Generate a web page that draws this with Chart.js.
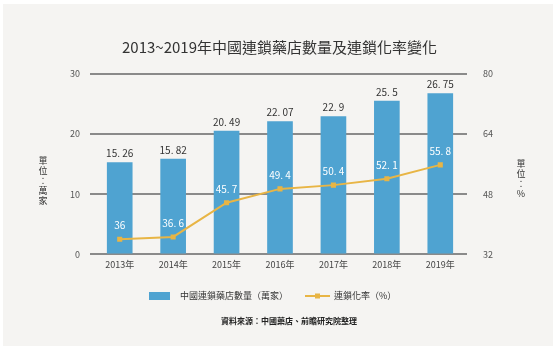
<!DOCTYPE html>
<html><head><meta charset="utf-8">
<script src="https://cdn.jsdelivr.net/npm/chart.js@4"></script>
<style>html,body{margin:0;padding:0;background:#fff;}#wrap{width:559px;height:352px;}</style>
</head><body><div id="wrap"><canvas id="c" width="559" height="352"></canvas></div>
<script>
const categories = ['2013年','2014年','2015年','2016年','2017年','2018年','2019年'];
const storeCounts = [15.26, 15.82, 20.49, 22.07, 22.9, 25.5, 26.75];
const chainRates = [36, 36.6, 45.7, 49.4, 50.4, 52.1, 55.8];
const leftTicks = [0, 10, 20, 30];
const rightTicks = [32, 48, 64, 80];
const titleText = '2013~2019年中國連鎖藥店數量及連鎖化率變化';
const leftAxisTitle = '單位：萬家';
const rightAxisTitle = '單位：%';
const sourceText = '資料來源：中國藥店、前瞻研究院整理';

const FONT = '"Noto Sans CJK TC", "Noto Sans", sans-serif';
const fmt = v => String(v).replace('.', '. ');

const decor = {
  id: 'decor',
  beforeDraw(chart) {
    const ctx = chart.ctx;
    ctx.save();
    ctx.fillStyle = '#f5f4f2';
    ctx.fillRect(3, 4, 550, 342);
    ctx.restore();
  },
  afterDatasetsDraw(chart) {
    const ctx = chart.ctx;
    const ds = chart.data.datasets;
    const bi = ds.findIndex(d => d.type === 'bar');
    const li = ds.findIndex(d => d.type === 'line');
    const bar = ds[bi], line = ds[li];
    ctx.save();
    ctx.textAlign = 'center';
    ctx.textBaseline = 'middle';
    // bar labels
    ctx.font = '10px ' + FONT;
    ctx.fillStyle = '#333';
    chart.getDatasetMeta(bi).data.forEach((el, i) => {
      ctx.fillText(fmt(bar.data[i]), el.x, el.y - 9);
    });
    // line labels
    ctx.fillStyle = '#ffffff';
    chart.getDatasetMeta(li).data.forEach((el, i) => {
      ctx.fillText(fmt(line.data[i]), el.x, el.y - 14);
    });
    // axis titles (upright stacked characters)
    ctx.fillStyle = '#333';
    ctx.font = '9px ' + FONT;
    const drawStack = (text, x, y0, step) => {
      [...text].forEach((ch, k) => ctx.fillText(ch, x, y0 + k * step));
    };
    drawStack(leftAxisTitle, 43, 161, 10);
    drawStack(rightAxisTitle, 521, 164, 10);
    // legend
    ctx.textAlign = 'left';
    ctx.font = '9px ' + FONT;
    ctx.fillStyle = bar.backgroundColor;
    ctx.fillRect(149, 292, 21, 8);
    ctx.fillStyle = '#333';
    ctx.fillText(bar.label, 180, 296);
    ctx.strokeStyle = line.borderColor;
    ctx.lineWidth = 2;
    ctx.beginPath(); ctx.moveTo(305, 296); ctx.lineTo(330, 296); ctx.stroke();
    ctx.fillStyle = line.borderColor;
    ctx.fillRect(315, 293.5, 5, 5);
    ctx.fillStyle = '#333';
    ctx.fillText(line.label, 334, 296);
    // source
    ctx.textAlign = 'center';
    ctx.font = 'bold 8px ' + FONT;
    ctx.fillStyle = '#222';
    ctx.fillText(sourceText, 289, 321);
    ctx.restore();
  }
};

new Chart(document.getElementById('c'), {
  data: {
    labels: categories,
    datasets: [
      {
        type: 'line', label: '連鎖化率（%）', data: chainRates, yAxisID: 'yR',
        borderColor: '#e8b545', backgroundColor: '#e8b545', borderWidth: 2,
        pointStyle: 'rect', pointRadius: 3.6, pointHoverRadius: 3.6,
        pointBackgroundColor: '#e8b545', pointBorderWidth: 0, tension: 0, order: 0
      },
      {
        type: 'bar', label: '中國連鎖藥店數量（萬家）', data: storeCounts, yAxisID: 'yL',
        backgroundColor: '#4fa3d1', barThickness: 25, order: 1
      }
    ]
  },
  options: {
    responsive: false, animation: false, devicePixelRatio: 1,
    layout: { padding: { left: 0, right: 0, top: 0, bottom: 77 } },
    plugins: {
      legend: { display: false },
      tooltip: { enabled: false },
      title: {
        display: true, text: titleText, color: '#333',
        font: { family: FONT, size: 15, weight: 'normal', lineHeight: 1.2 },
        padding: { top: 38, bottom: 18 }
      }
    },
    scales: {
      x: {
        grid: { display: false, drawTicks: false },
        border: { display: false },
        ticks: { color: '#444', font: { family: FONT, size: 9 }, padding: 5 }
      },
      yL: {
        position: 'left', min: 0, max: 30,
        afterFit(s) { s.width = 93; },
        afterBuildTicks(s) { s.ticks = leftTicks.map(v => ({ value: v })); },
        grid: { color: '#8a8a8a', lineWidth: 2, tickLength: 3 },
        border: { display: false },
        ticks: { color: '#555', font: { family: FONT, size: 9 }, padding: 10 }
      },
      yR: {
        position: 'right', min: 32, max: 80,
        afterFit(s) { s.width = 92; },
        afterBuildTicks(s) { s.ticks = rightTicks.map(v => ({ value: v })); },
        grid: { display: false, drawTicks: false },
        border: { display: false },
        ticks: { color: '#555', font: { family: FONT, size: 9 }, padding: 16 }
      }
    }
  },
  plugins: [decor]
});
</script>
</body></html>
